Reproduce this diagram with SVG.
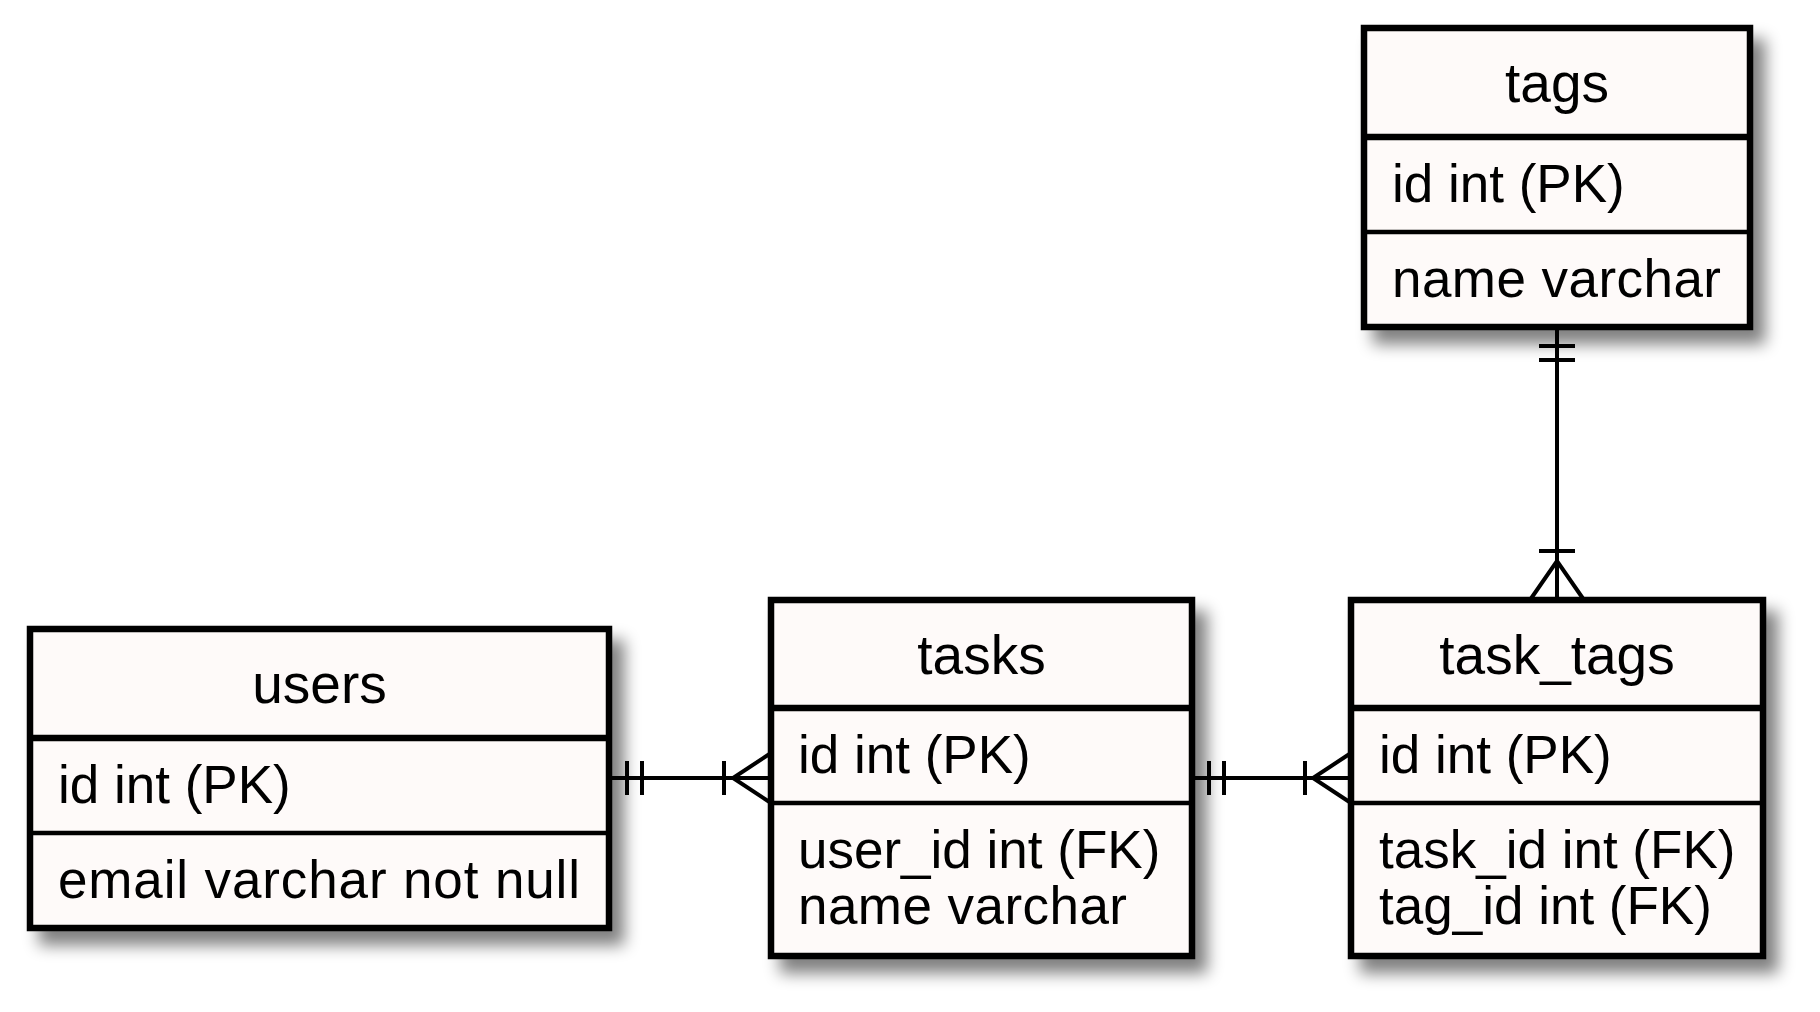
<svg xmlns="http://www.w3.org/2000/svg" width="1820" height="1012" viewBox="0 0 1820 1012">
<style>
.box{fill:#FEFAF9;stroke:#000;stroke-width:6.5}
.hdr{stroke:#000;stroke-width:6.5}
.sep{stroke:#000;stroke-width:4.5}
.title{font-family:"Liberation Sans",Arial,sans-serif;font-size:55px;text-anchor:middle;fill:#000}
.attr{font-family:"Liberation Sans",Arial,sans-serif;font-size:53px;fill:#000}
.conn line,.conn polyline{stroke:#000;stroke-width:4;fill:none}
</style>
<defs>
<filter id="shadow" x="-15%" y="-15%" width="140%" height="140%">
<feGaussianBlur in="SourceAlpha" stdDeviation="8"/>
<feOffset dx="12" dy="14" result="b"/>
<feComponentTransfer><feFuncA type="linear" slope="0.5"/></feComponentTransfer>
<feMerge><feMergeNode/><feMergeNode in="SourceGraphic"/></feMerge>
</filter>
</defs>
<rect width="1820" height="1012" fill="#fff"/>

<g id="users">
<rect class="box" x="30" y="629" width="579" height="299" filter="url(#shadow)"/>
<text class="title" x="319.5" y="703">users</text>
<line class="hdr" x1="33" y1="738" x2="606" y2="738"/>
<text class="attr" x="58" y="803">id int (PK)</text>
<line class="sep" x1="33" y1="833" x2="606" y2="833"/>
<text class="attr" x="58" y="898" textLength="522" lengthAdjust="spacing">email varchar not null</text>
</g>

<g id="tasks">
<rect class="box" x="771" y="600" width="421" height="356" filter="url(#shadow)"/>
<text class="title" x="981.5" y="674">tasks</text>
<line class="hdr" x1="774" y1="708" x2="1189" y2="708"/>
<text class="attr" x="798" y="773">id int (PK)</text>
<line class="sep" x1="774" y1="803" x2="1189" y2="803"/>
<text class="attr" x="798" y="868">user_id int (FK)</text>
<text class="attr" x="798" y="924" textLength="329" lengthAdjust="spacing">name varchar</text>
</g>

<g id="task_tags">
<rect class="box" x="1351" y="600" width="412" height="356" filter="url(#shadow)"/>
<text class="title" x="1557" y="674">task_tags</text>
<line class="hdr" x1="1354" y1="708" x2="1760" y2="708"/>
<text class="attr" x="1379" y="773">id int (PK)</text>
<line class="sep" x1="1354" y1="803" x2="1760" y2="803"/>
<text class="attr" x="1379" y="868">task_id int (FK)</text>
<text class="attr" x="1379" y="924">tag_id int (FK)</text>
</g>

<g id="tags">
<rect class="box" x="1364" y="28" width="386" height="299" filter="url(#shadow)"/>
<text class="title" x="1557" y="102">tags</text>
<line class="hdr" x1="1367" y1="137" x2="1747" y2="137"/>
<text class="attr" x="1392" y="202">id int (PK)</text>
<line class="sep" x1="1367" y1="232" x2="1747" y2="232"/>
<text class="attr" x="1392" y="297" textLength="329" lengthAdjust="spacing">name varchar</text>
</g>

<g id="connectors" class="conn">
<g id="users-tasks">
<line x1="609" y1="778" x2="771" y2="778"/>
<line x1="627" y1="761" x2="627" y2="795"/>
<line x1="642" y1="761" x2="642" y2="795"/>
<line x1="724" y1="761" x2="724" y2="795"/>
<polyline points="771,753 733,778 771,803"/>
</g>
<g id="tasks-task_tags">
<line x1="1192" y1="778" x2="1351" y2="778"/>
<line x1="1209" y1="761" x2="1209" y2="795"/>
<line x1="1224" y1="761" x2="1224" y2="795"/>
<line x1="1305" y1="761" x2="1305" y2="795"/>
<polyline points="1351,753 1313,778 1351,803"/>
</g>
<g id="tags-task_tags">
<line x1="1557" y1="327" x2="1557" y2="600"/>
<line x1="1539" y1="346" x2="1575" y2="346"/>
<line x1="1539" y1="360" x2="1575" y2="360"/>
<line x1="1539" y1="551" x2="1575" y2="551"/>
<polyline points="1530,600 1557,561 1584,600"/>
</g>
</g>
</svg>
